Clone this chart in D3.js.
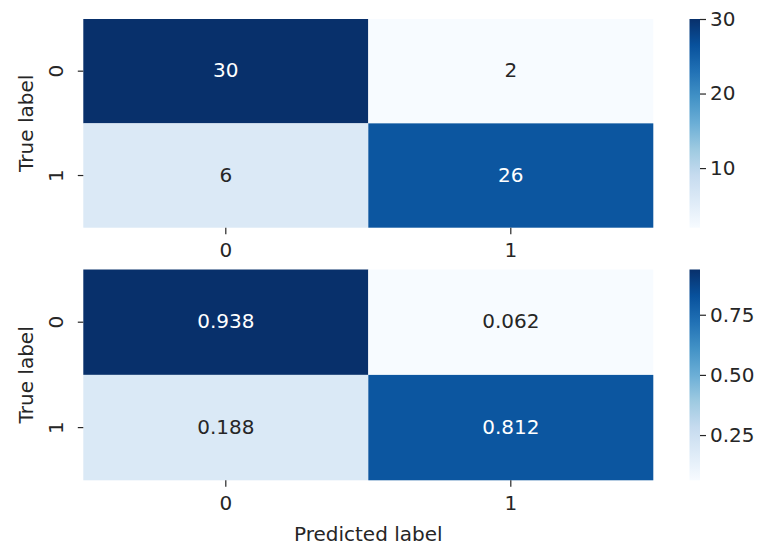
<!DOCTYPE html>
<html>
<head>
<meta charset="utf-8">
<script src="https://cdn.jsdelivr.net/npm/d3@7"></script>
<style>
  html, body { margin: 0; padding: 0; background: #ffffff; }
  svg { display: block; }
  text { font-family: "DejaVu Sans", sans-serif; fill: #262626; }
</style>
</head>
<body>
<svg id="chart" width="762" height="546"></svg>
<script>
// Class labels shared by both confusion matrices
const classes = ["0", "1"];
// Raw confusion counts (rows: true label, columns: predicted label)
const counts = [[30, 2], [6, 26]];
// Row-normalised rates
const rates = [[0.938, 0.062], [0.188, 0.812]];
// Colour-bar ticks
const countTicks = [10, 20, 30];
const rateTicks = [0.25, 0.50, 0.75];

// ColorBrewer "Blues" ramp (9 classes)
const bluesStops = ["#f7fbff", "#deebf7", "#c6dbef", "#9ecae1", "#6baed6",
                    "#4292c6", "#2171b5", "#08519c", "#08306b"];
const blues = d3.scaleLinear()
  .domain(d3.range(bluesStops.length).map(i => i / (bluesStops.length - 1)))
  .range(bluesStops)
  .interpolate(d3.interpolateRgb);

const svg = d3.select("#chart");
const FS = 20;
const defs = svg.append("defs");
const grad = defs.append("linearGradient")
  .attr("id", "bluesGrad").attr("x1", 0).attr("y1", 1).attr("x2", 0).attr("y2", 0);
bluesStops.forEach((c, i) => grad.append("stop")
  .attr("offset", i / (bluesStops.length - 1)).attr("stop-color", c));

const left = 83.3, right = 653.3, cbX = 689.5, cbW = 10.5;

function panel(matrix, top, bottom, ticks, fmt, tickFmt, showXTitle) {
  const flat = matrix.flat();
  const vmin = d3.min(flat), vmax = d3.max(flat);
  const norm = d3.scaleLinear().domain([vmin, vmax]).range([0, 1]);
  const x = d3.scaleBand().domain(classes).range([left, right]);
  const y = d3.scaleBand().domain(classes).range([top, bottom]);
  const g = svg.append("g");

  const cells = [];
  matrix.forEach((row, i) => row.forEach((v, j) => cells.push({ r: classes[i], c: classes[j], v })));

  g.selectAll("rect.cell").data(cells).join("rect")
    .attr("class", "cell")
    .attr("x", d => x(d.c)).attr("y", d => y(d.r))
    .attr("width", x.bandwidth()).attr("height", y.bandwidth())
    .attr("fill", d => blues(norm(d.v)));

  g.selectAll("text.annot").data(cells).join("text")
    .attr("class", "annot")
    .attr("x", d => x(d.c) + x.bandwidth() / 2)
    .attr("y", d => y(d.r) + y.bandwidth() / 2 + FS * 0.3)
    .attr("text-anchor", "middle")
    .style("font-size", FS + "px")
    .style("fill", d => norm(d.v) > 0.5 ? "#ffffff" : "#262626")
    .text(d => fmt(d.v));

  // x axis (bottom)
  const xa = g.append("g").attr("transform", `translate(0,${bottom})`)
    .call(d3.axisBottom(x).tickSize(6.5).tickPadding(9));
  xa.select(".domain").remove();
  xa.selectAll("line").attr("stroke", "#262626").attr("stroke-width", 1.2);
  xa.selectAll("text").style("font-size", FS + "px").attr("dy", "0.71em").attr("fill", null);

  // y axis (left) with vertical tick labels
  const ya = g.append("g").attr("transform", `translate(${left},0)`)
    .call(d3.axisLeft(y).tickSize(5.5).tickPadding(0));
  ya.select(".domain").remove();
  ya.selectAll("line").attr("stroke", "#262626").attr("stroke-width", 1.2);
  ya.selectAll("text")
    .style("font-size", FS + "px").attr("fill", null)
    .attr("x", null).attr("dy", null)
    .attr("text-anchor", "middle")
    .attr("transform", "translate(-20,0) rotate(-90)");

  g.append("text")
    .attr("transform", `translate(33,${(top + bottom) / 2}) rotate(-90)`)
    .attr("text-anchor", "middle")
    .style("font-size", FS + "px")
    .text("True label");

  if (showXTitle) {
    g.append("text")
      .attr("x", (left + right) / 2).attr("y", 540.5)
      .attr("text-anchor", "middle")
      .style("font-size", FS + "px")
      .text("Predicted label");
  }

  // colour bar
  const cy = d3.scaleLinear().domain([vmin, vmax]).range([bottom, top]);
  g.append("rect")
    .attr("x", cbX).attr("y", top).attr("width", cbW).attr("height", bottom - top)
    .attr("fill", "url(#bluesGrad)");
  const ca = g.append("g").attr("transform", `translate(${cbX + cbW},0)`)
    .call(d3.axisRight(cy).tickValues(ticks).tickFormat(tickFmt).tickSize(6).tickPadding(4));
  ca.select(".domain").remove();
  ca.selectAll("line").attr("stroke", "#262626").attr("stroke-width", 1.2);
  ca.selectAll("text").style("font-size", FS + "px").attr("fill", null);
}

panel(counts, 19, 227.7, countTicks, d3.format("d"), d3.format("d"), false);
panel(rates, 269.5, 480.3, rateTicks, d3.format(".3f"), d3.format(".2f"), true);
</script>
</body>
</html>
